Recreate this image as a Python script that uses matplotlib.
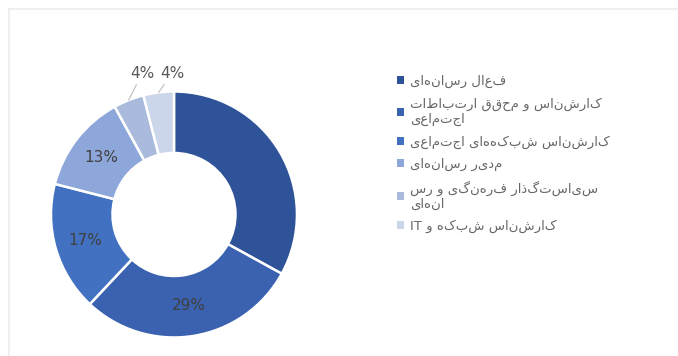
import matplotlib.pyplot as plt
import numpy as np

# respondent groups (logical Persian order) and their share in percent
groups = [
    "فعال رسانه‌ای",
    "کارشناس و محقق ارتباطات\nاجتماعی",
    "کارشناس شبکه‌های اجتماعی",
    "مدیر رسانه‌ای",
    "سیاستگذار فرهنگی و رس\nانه‌ای",
    "کارشناس شبکه و IT",
]
shares = [33, 29, 17, 13, 4, 4]
colors = ["#2f5399", "#3a62b0", "#4171c0", "#8da7da", "#a9badd", "#ccd6ea"]
show_inside = [False, True, True, True, False, False]


def visual(s):
    # naive right-to-left ordering, matplotlib draws text left to right
    lines = []
    for line in s.split("\n"):
        line = line.replace("\u200c", "")
        words = line.split(" ")[::-1]
        words = [w if w.isascii() else w[::-1] for w in words]
        lines.append(" ".join(words))
    return "\n".join(lines)


plt.rcParams["font.family"] = ["DejaVu Sans"]

fig = plt.figure(figsize=(6.78, 3.56), dpi=100)
ax = fig.add_axes([0.0752, 0.052, 0.3628, 0.691])

wedges, _ = ax.pie(shares, colors=colors, startangle=90, counterclock=False,
                   radius=1.0, wedgeprops=dict(width=0.5, edgecolor="white", linewidth=1.8))
ax.set_xlim(-1, 1)
ax.set_ylim(-1, 1)
ax.set_aspect("equal")
ax.axis("off")

# percentage labels: inside the ring for the big slices, outside with leaders for the small ones
for w, v, inside in zip(wedges, shares, show_inside):
    ang = np.deg2rad((w.theta1 + w.theta2) / 2)
    if inside:
        r = 0.75
        ax.text(r * np.cos(ang), r * np.sin(ang), f"{v}%", ha="center", va="center",
                fontsize=11, color="#404040")
    elif v < 10:
        ex, ey = np.cos(ang), np.sin(ang)
        ax.annotate(f"{v}%", xy=(ex, ey), xytext=(ex + 0.11, 1.15),
                    ha="center", va="center", fontsize=11, color="#595959",
                    arrowprops=dict(arrowstyle="-", color="#bfbfbf", lw=0.8,
                                    shrinkA=1, shrinkB=0))

leg = fig.legend(wedges, [visual(g) for g in groups], loc="upper left",
                 bbox_to_anchor=(0.585, 0.789), frameon=False, fontsize=9.5,
                 handlelength=0.55, handleheight=0.55, handletextpad=0.45,
                 labelspacing=0.7, borderpad=0, borderaxespad=0)
for t in leg.get_texts():
    t.set_color("#666666")
for h in leg.legend_handles:
    h.set_edgecolor("none")

# light frame of the chart area
fig.add_artist(plt.Line2D([0.013, 1.0], [0.975, 0.975], color="#ececec", lw=1.2))
fig.add_artist(plt.Line2D([0.013, 0.013], [0.0, 0.975], color="#ececec", lw=1.2))

fig.savefig("out.png", dpi=100)
